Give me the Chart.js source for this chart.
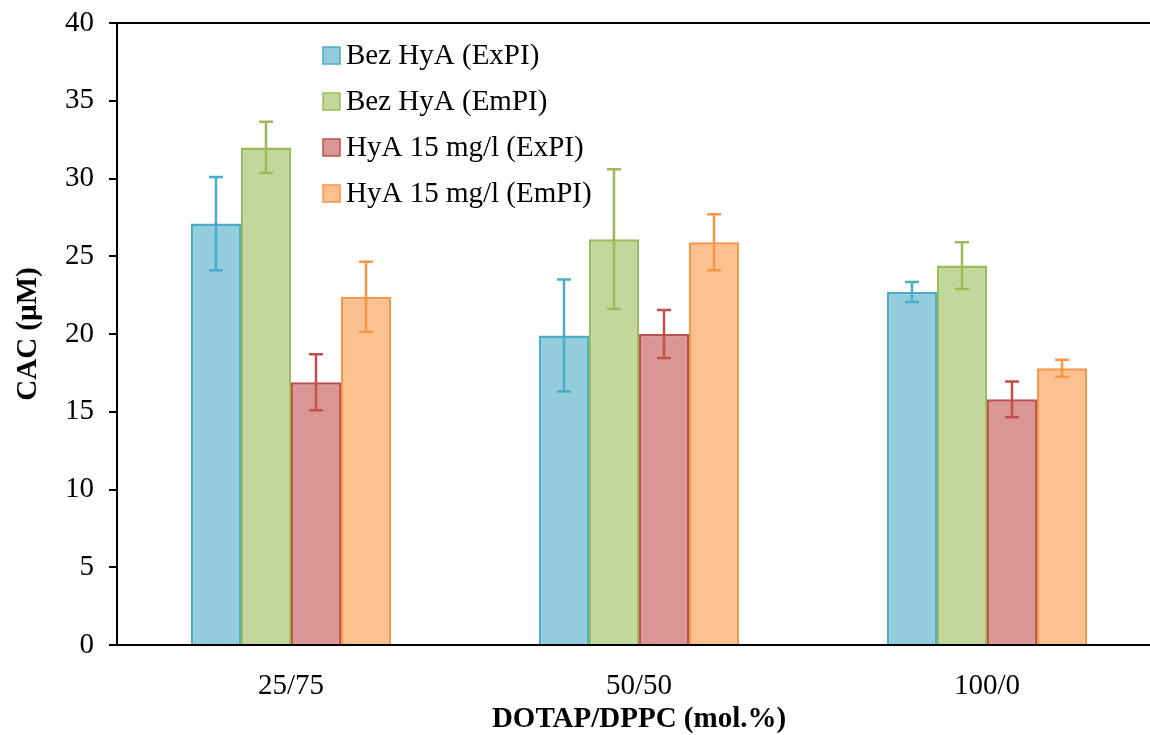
<!DOCTYPE html>
<html>
<head>
<meta charset="utf-8">
<script src="https://cdn.jsdelivr.net/npm/chart.js@4/dist/chart.umd.min.js"></script>
<style>
  html, body { margin: 0; padding: 0; background: #fff; overflow: hidden; }
  #wrap { width: 1170px; height: 735px; }
</style>
</head>
<body>
<div id="wrap"><canvas id="chart" width="1170" height="735"></canvas></div>
<script>
// categories (DOTAP/DPPC ratio)
const categories = ["25/75", "50/50", "100/0"];

// series labels
const seriesNames = ["Bez HyA (ExPI)", "Bez HyA (EmPI)", "HyA 15 mg/l (ExPI)", "HyA 15 mg/l (EmPI)"];

// CAC values (µM)
const bezExpi = [27.1, 19.9, 22.7];
const bezEmpi = [32.0, 26.1, 24.4];
const hyaExpi = [16.9, 20.0, 15.8];
const hyaEmpi = [22.4, 25.9, 17.8];

// error bar half-widths
const bezExpiErr = [3.0, 3.6, 0.65];
const bezEmpiErr = [1.65, 4.5, 1.5];
const hyaExpiErr = [1.8, 1.55, 1.15];
const hyaEmpiErr = [2.25, 1.8, 0.55];

const fills = ["#93CDDD", "#C3D69B", "#D99694", "#FAC090"];
const borders = ["#4BACC6", "#9BBB59", "#C0504D", "#F79646"];

const values = [bezExpi, bezEmpi, hyaExpi, hyaEmpi];
const errors = [bezExpiErr, bezEmpiErr, hyaExpiErr, hyaEmpiErr];

const FONT = "'Liberation Serif', 'Times New Roman', serif";
Chart.defaults.font.family = FONT;
Chart.defaults.font.size = 29;
Chart.defaults.color = "#000";

// draws the +/- error whiskers for each bar
const errorBars = {
  id: "errorBars",
  afterDatasetsDraw(chart) {
    const ctx = chart.ctx;
    const y = chart.scales.y;
    chart.data.datasets.forEach((ds, i) => {
      const meta = chart.getDatasetMeta(i);
      meta.data.forEach((bar, j) => {
        const v = ds.data[j];
        const e = ds.errors[j];
        const top = y.getPixelForValue(v + e);
        const bot = y.getPixelForValue(v - e);
        ctx.save();
        ctx.strokeStyle = ds.borderColor;
        ctx.lineWidth = 2.5;
        ctx.beginPath();
        ctx.moveTo(bar.x, top);
        ctx.lineTo(bar.x, bot);
        ctx.moveTo(bar.x - 7, top);
        ctx.lineTo(bar.x + 7, top);
        ctx.moveTo(bar.x - 7, bot);
        ctx.lineTo(bar.x + 7, bot);
        ctx.stroke();
        ctx.restore();
      });
    });
  }
};

// top frame line + legend placed inside the plot
const frameAndLegend = {
  id: "frameAndLegend",
  afterDraw(chart) {
    const ctx = chart.ctx;
    const area = chart.chartArea;
    ctx.save();
    ctx.strokeStyle = "#000";
    ctx.lineWidth = 2;
    ctx.beginPath();
    ctx.moveTo(area.left, area.top);
    ctx.lineTo(area.right + 20, area.top);
    ctx.stroke();

    ctx.font = "29px " + FONT;
    ctx.textBaseline = "middle";
    chart.data.datasets.forEach((ds, i) => {
      const cy = 55 + i * 46;
      ctx.fillStyle = ds.backgroundColor;
      ctx.fillRect(323, cy - 8, 17, 17);
      ctx.strokeStyle = ds.borderColor;
      ctx.lineWidth = 1.5;
      ctx.strokeRect(323, cy - 8, 17, 17);
      ctx.fillStyle = "#000";
      ctx.fillText(ds.label, 346, cy + 1);
    });
    ctx.restore();
  }
};

new Chart(document.getElementById("chart"), {
  type: "bar",
  data: {
    labels: categories,
    datasets: seriesNames.map((name, i) => ({
      label: name,
      data: values[i],
      errors: errors[i],
      backgroundColor: fills[i],
      borderColor: borders[i],
      borderWidth: 2.5,
      categoryPercentage: 0.575,
      barPercentage: 1.0
    }))
  },
  options: {
    responsive: false,
    animation: false,
    layout: { padding: { top: 23, right: 9, bottom: 0, left: 0 } },
    plugins: {
      legend: { display: false },
      tooltip: { enabled: false }
    },
    scales: {
      x: {
        grid: { display: false, drawTicks: false },
        border: { display: true, color: "#000", width: 2 },
        ticks: { padding: 24, font: { size: 29 } },
        title: {
          display: true,
          text: "DOTAP/DPPC (mol.%)",
          font: { size: 29, weight: "bold" },
          padding: { top: 0, bottom: -2 }
        },
        afterFit(scale) { scale.height = 90; }
      },
      y: {
        min: 0,
        max: 40,
        ticks: { stepSize: 5, padding: 15, font: { size: 29 } },
        grid: { drawOnChartArea: false, drawTicks: true, tickLength: 8, color: "#000", lineWidth: 2 },
        border: { display: true, color: "#000", width: 2 },
        title: {
          display: true,
          text: "CAC (µM)",
          font: { size: 29, weight: "bold" },
          padding: { top: 11, bottom: 0 }
        },
        afterFit(scale) {
          scale.width = 117;
          scale.paddingTop = 0;
          scale.paddingBottom = 0;
        }
      }
    }
  },
  plugins: [errorBars, frameAndLegend]
});
</script>
</body>
</html>
